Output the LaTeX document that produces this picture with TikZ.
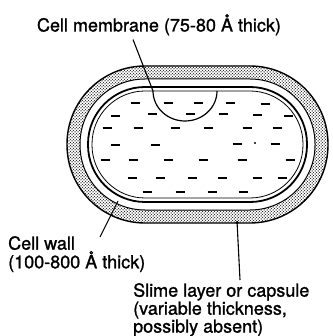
\documentclass[tikz,border=0pt]{standalone}
\usepackage{fontspec}
\setmainfont{TeX Gyre Heros}[FakeBold=1.2]
\usetikzlibrary{patterns,arrows.meta}

\begin{document}
\begin{tikzpicture}[x=1pt,y=-1pt,
    callout/.style={font=\fontsize{18}{16.5}\selectfont,inner sep=0,align=left},
    leader/.style={line width=1.1pt},
    layer/.style={line width=1pt},
    granule/.style={line width=1.8pt}
]
\useasboundingbox[fill=white] (0,0) rectangle (332,336);

% slime layer, wall and membrane
\fill[pattern=dots,rounded corners=78pt] (67,66) rectangle (328,223);
\draw[layer,line width=1.4pt,pattern=crosshatch dots,rounded corners=78pt] (67,66) rectangle (328,223);
\draw[layer,fill=white,rounded corners=65pt] (80,79) rectangle (315,210);
\draw[layer,line width=1.8pt,rounded corners=57pt] (88,87) rectangle (307,202);
\draw[layer,line width=0.8pt,rounded corners=53pt] (92,91) rectangle (303,198);

% nuclear region
\draw[layer,line width=1.2pt] (153,91) arc[start angle=180,end angle=0,x radius=32,y radius=30];

% cytoplasm granules
\foreach \x/\y in {135/103,168/103,198/103,230/103,265/104,
                   115/116,152/114,190/114,223/114,257/115,288/116,
                   107/128,138/128,175/128,208/128,247/128,277/128,
                   115/145,155/145,237/144,275/144,
                   105/160,133/160,168/160,203/160,242/160,290/160,
                   132/178,160/178,192/178,222/178,257/178,282/178,
                   147/192,180/192,212/192,243/192}{
  \draw[granule] (\x-4.5,\y) -- (\x+4.5,\y);
}
\fill (255,143) circle (1.2pt);

\node[callout,anchor=north] (memlabel) at (159,14) {Cell membrane (75-80 Å thick)};
\node[callout,anchor=north west] (walllabel) at (8,236) {Cell wall\\(100-800 Å thick)};
\node[callout,anchor=north west] (slimelabel) at (133,283)
  {Slime layer or capsule\\(variable thickness,\\possibly absent)};

\coordinate (memtip) at (153,91);
\coordinate (walltip) at (118,201);
\coordinate (slimetip) at (237,221);

\draw[leader] ([xshift=-26pt,yshift=-4pt]memlabel.south) -- (memtip);
\draw[leader] ([xshift=92pt,yshift=-1pt]walllabel.north west) -- (walltip);
\draw[leader,{Circle[length=3pt]}-] (slimetip) -- ([xshift=107pt,yshift=3pt]slimelabel.north west);

\end{tikzpicture}
\end{document}
